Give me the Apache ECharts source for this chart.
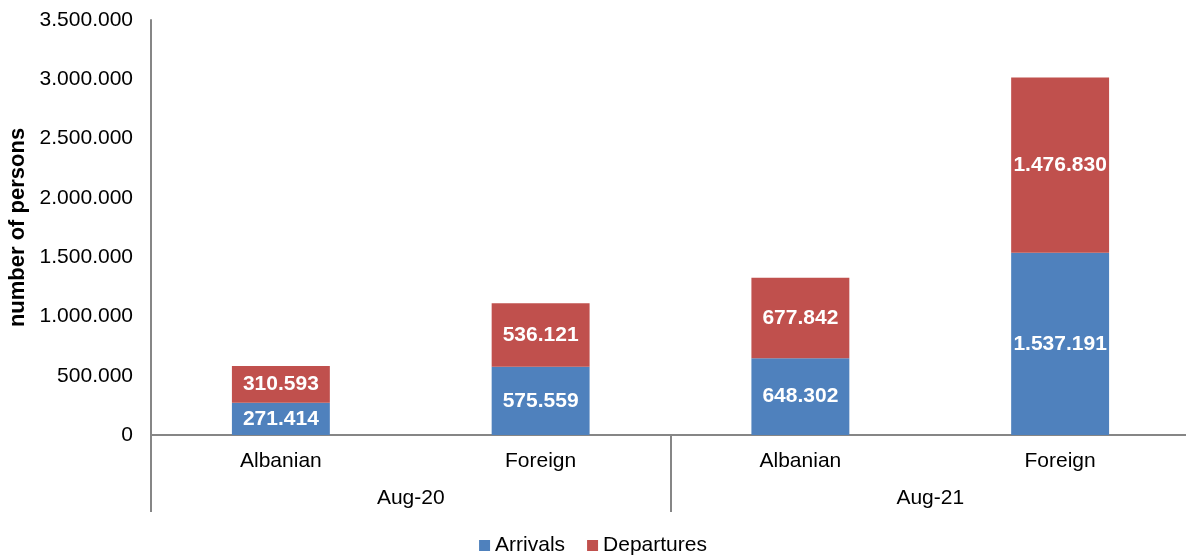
<!DOCTYPE html>
<html>
<head>
<meta charset="utf-8">
<script src="https://cdn.jsdelivr.net/npm/echarts@6/dist/echarts.min.js"></script>
<style>
  html, body { margin: 0; padding: 0; background: #fff; }
  #main { width: 1186px; height: 555px; }
</style>
</head>
<body>
<div id="main"></div>
<script>
var categories = ['Albanian', 'Foreign', 'Albanian', 'Foreign'];
var periods = ['Aug-20', 'Aug-21'];
var arrivals = [271414, 575559, 648302, 1537191];
var departures = [310593, 536121, 677842, 1476830];

function dotted(v) {
    return String(v).replace(/\B(?=(\d{3})+(?!\d))/g, '.');
}

var myChart = echarts.init(document.getElementById('main'));

var labelStyle = {
    show: true,
    position: 'inside',
    color: '#fff',
    fontWeight: 'bold',
    fontSize: 21,
    fontFamily: 'Liberation Sans',
    formatter: function (p) { return dotted(p.value); }
};

var option = {
    animation: false,
    textStyle: { fontFamily: 'Liberation Sans' },
    grid: { left: 151, right: -4, top: 20, bottom: 120, outerBoundsMode: 'none', containLabel: false },
    legend: {
        top: 530,
        left: 'center',
        itemWidth: 11,
        itemHeight: 11,
        itemGap: 22,
        icon: 'rect',
        textStyle: { fontSize: 21, color: '#000', fontFamily: 'Liberation Sans' },
        data: ['Arrivals', 'Departures']
    },
    xAxis: [
        {
            type: 'category',
            data: categories,
            axisLine: { lineStyle: { color: '#868686', width: 2 } },
            axisTick: { show: false },
            axisLabel: { color: '#000', fontSize: 21, margin: 16 }
        },
        {
            type: 'category',
            data: periods,
            position: 'bottom',
            axisLine: { show: false },
            axisTick: { show: true, length: 77, lineStyle: { color: '#868686', width: 2 } },
            axisLabel: { color: '#000', fontSize: 21, margin: 53 }
        }
    ],
    yAxis: {
        type: 'value',
        min: 0,
        max: 3500000,
        interval: 500000,
        name: 'number of persons',
        nameLocation: 'middle',
        nameGap: 121,
        nameTextStyle: { fontSize: 22, fontWeight: 'bold', color: '#000' },
        axisLine: { show: true, lineStyle: { color: '#868686', width: 2 } },
        axisTick: { show: false },
        splitLine: { show: false },
        axisLabel: {
            color: '#000',
            fontSize: 21,
            margin: 18,
            formatter: function (v) { return dotted(v); }
        }
    },
    series: [
        {
            name: 'Arrivals',
            type: 'bar',
            stack: 'total',
            barWidth: '37.7%',
            data: arrivals,
            itemStyle: { color: '#4F81BD' },
            label: labelStyle
        },
        {
            name: 'Departures',
            type: 'bar',
            stack: 'total',
            barWidth: '37.7%',
            data: departures,
            itemStyle: { color: '#C0504D' },
            label: labelStyle
        }
    ]
};

myChart.setOption(option);
</script>
</body>
</html>
